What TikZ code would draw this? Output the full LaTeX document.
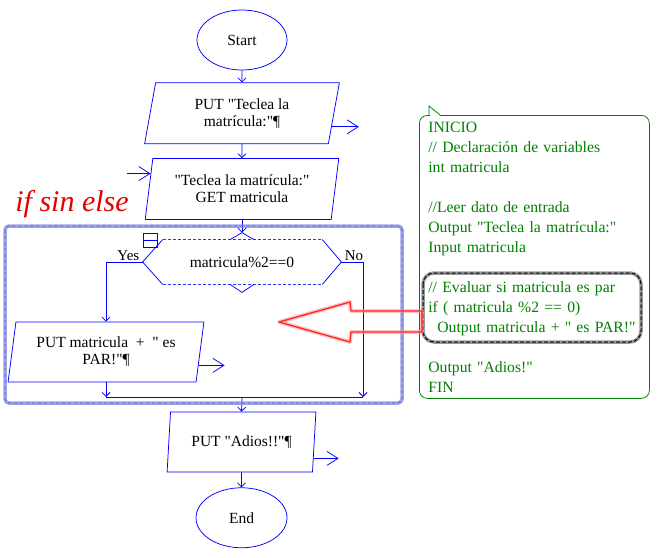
\documentclass[tikz,border=0pt]{standalone}
\usepackage{fontspec}
\setmainfont{Liberation Serif}[Ligatures=TeXOff]
\usetikzlibrary{shapes.geometric,arrows.meta,positioning,calc}
\definecolor{flowblue}{RGB}{0,0,255}
\definecolor{codegreen}{RGB}{0,128,0}
\definecolor{brushblue}{RGB}{120,130,225}
\tikzstyle{term} = [draw=flowblue, ellipse, minimum width=90pt, minimum height=60pt, inner sep=0pt]
\tikzstyle{io} = [draw=flowblue, trapezium, trapezium left angle=79, trapezium right angle=101,
trapezium stretches=true, minimum height=61pt, inner sep=1pt, align=center]
\tikzstyle{line} = [draw=flowblue, -{Straight Barb[length=4pt,width=8pt]}]
\tikzstyle{stub} = [draw=flowblue, -{Straight Barb[length=11pt,width=14pt]}]

\begin{document}
\begin{tikzpicture}[x=1pt, y=-1pt, line width=.75pt, font=\fontsize{15.5}{17}\selectfont,
	lbl/.style={font=\fontsize{15}{17}\selectfont, inner sep=0pt}]
    \useasboundingbox (0,0) rectangle (660,557);
    % main column
    \node [term] (start) at (242,40) {Start};
    \node [io, minimum width=195pt, below=12pt of start] (put1) {PUT "Teclea la\\matrícula:"¶};
    \node [io, minimum width=194pt, below=14pt of put1] (get) {"Teclea la matrícula:"\\GET matricula};
    \node [minimum width=198pt, minimum height=44pt, inner sep=0pt] (dec) at (242,262) {matricula\%2==0};
    \node [io, minimum width=196pt, minimum height=60pt] (put3) at (106,352) {PUT matricula~ +~ " es\\PAR!"¶};
    \node [io, minimum width=149pt, minimum height=60pt, trapezium left angle=80.5, trapezium right angle=99.5] (adios) at (241.5,442) {PUT "Adios!!"¶};
    \node [term, minimum width=91pt, below=15pt of adios] (end) {End};
	%% decision shape
	\draw [flowblue] ($(dec.north west)+(20,0)$) -- (dec.west) -- ($(dec.south west)+(20,0)$);
	\draw [flowblue] ($(dec.north east)+(-19,0)$) -- (dec.east) -- ($(dec.south east)+(-19,0)$);
	\draw [flowblue!80, thin, densely dashed] ($(dec.north west)+(20,0)$) -- ($(dec.north east)+(-19,0)$);
	\draw [flowblue!80, thin, densely dashed] ($(dec.south west)+(20,0)$) -- ($(dec.south east)+(-19,0)$);
	\draw [flowblue] ($(dec.north)+(-12,0)$) -- ++(12,-7) coordinate (dectop) -- ++(12,7);
	\draw [flowblue] ($(dec.south)+(-12,0)$) -- ++(12,8) -- ++(12,-8);
	\draw [flowblue] (143,233) rectangle (157,247) (143,240) -- (157,240);
	\node [lbl, above left=1pt and 3pt of dec.west] (yes) {Yes};
	\node [lbl, above right=1pt and 3pt of dec.east] (no) {No};
	%% joins
	\coordinate (merge) at (242,397);
	\coordinate (nojoin) at (363,397);
	\coordinate (yesjoin) at (put3.south |- merge);
	%% Arrows
	\path [line] (start) -- (put1);
	\path [line] (put1) -- (get);
	\path [line] (get.south) -- (dectop);
	\path [line] (dec.west) -| (put3.north);
	\path [line] (dec.east) -| (nojoin);
	\path [line] (put3.south) -- (yesjoin);
	\draw [flowblue] (yesjoin) -- (nojoin);
	\path [line] (merge) -- (adios.north);
	\path [line] (adios) -- (end);
	%% input / output stubs
	\path ($(put1.bottom right corner)!.28!(put1.top right corner)$) coordinate (o1) ++(27,0) coordinate (o1end);
	\path ($(get.top left corner)!.25!(get.bottom left corner)$) coordinate (i2) ++(-24,0) coordinate (i2start);
	\path ($(put3.bottom right corner)!.28!(put3.top right corner)$) coordinate (o3) ++(26,0) coordinate (o3end);
	\path ($(adios.bottom right corner)!.23!(adios.top right corner)$) coordinate (o4) ++(25,0) coordinate (o4end);
	\path [stub] (o1) -- (o1end);
	\path [stub] (i2start) -- (i2);
	\path [stub] (o3) -- (o3end);
	\path [stub] (o4) -- (o4end);
	%% if block frame
	\draw [brushblue, line width=3.5pt, rounded corners=4pt, opacity=.75] (5,226) rectangle (402,403);
	\draw [blue!60!black, line width=.8pt, dash pattern=on 3pt off 3pt, rounded corners=4pt, opacity=.4] (5,226) rectangle (402,403);
	\node [font=\fontsize{30}{32}\selectfont\itshape, text=red!90!black, anchor=base west, inner sep=0pt] (title) at (15,211) {if sin else};
	%% pseudocode callout
	\node [draw=codegreen, rounded corners=8pt, anchor=north west, minimum width=230pt, minimum height=283pt,
		text width=212pt, inner xsep=9pt, align=left, text=codegreen,
		font=\fontsize{15.7}{20}\selectfont] (code) at (419,115)
		{INICIO\\
		// Declaración de variables\\
		int matricula\\[20pt]
		//Leer dato de entrada\\
		Output "Teclea la matrícula:"\\
		Input matricula\\[20pt]
		// Evaluar si matricula es par\\
		if ( matricula \%2 == 0)\\
		\hspace*{9pt}Output matricula + " es PAR!"\\[20pt]
		Output "Adios!"\\
		FIN};
	\draw [white, line width=1.5pt] ($(code.north west)+(10.5,0)$) -- ($(code.north west)+(20.5,0)$);
	\draw [codegreen] ($(code.north west)+(10,0)$) -- ++(0,-9) -- ($(code.north west)+(21,0)$);
	%% highlight of the if lines
	\draw [gray, line width=3.5pt, rounded corners=11pt, opacity=.8] (423,273) rectangle (641,342);
	\draw [black, line width=1pt, dash pattern=on 4pt off 2pt, rounded corners=11pt] (423,273) rectangle (641,342);
	%% hollow pointer arrow
	\draw [red!40, line width=4pt, line join=round, opacity=.6] (279,322) -- (350,302) -- (351,311) -- (422,311) -- (422,332) -- (351,332) -- (350,342) -- cycle;
	\draw [red!85!white, line width=1.3pt, line join=round] (279,322) -- (350,302) -- (351,311) -- (422,311) -- (422,332) -- (351,332) -- (350,342) -- cycle;
\end{tikzpicture}
\end{document}
